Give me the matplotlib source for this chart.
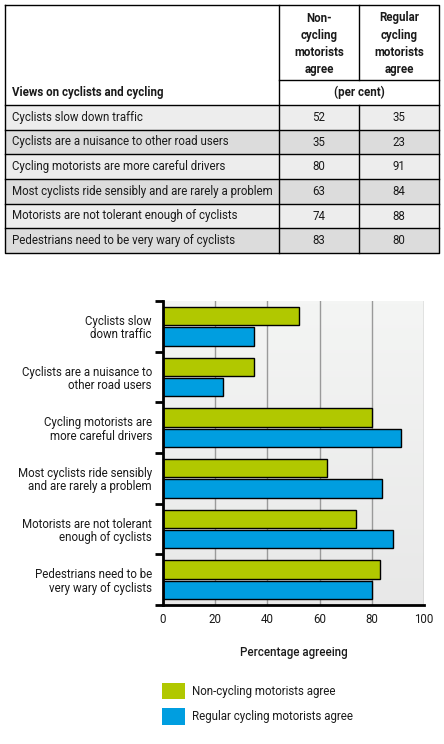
import numpy as np
import matplotlib
matplotlib.use("Agg")
import matplotlib.pyplot as plt
from matplotlib.patches import Rectangle

plt.rcParams["font.family"] = ["Roboto", "DejaVu Sans"]
FS = 8.3
plt.rcParams["font.size"] = FS

# data
views = ['Cyclists slow down traffic',
         'Cyclists are a nuisance to other road users',
         'Cycling motorists are more careful drivers',
         'Most cyclists ride sensibly and are rarely a problem',
         'Motorists are not tolerant enough of cyclists',
         'Pedestrians need to be very wary of cyclists']
chart_labels = ['Cyclists slow\ndown traffic',
                'Cyclists are a nuisance to\nother road users',
                'Cycling motorists are\nmore careful drivers',
                'Most cyclists ride sensibly\nand are rarely a problem',
                'Motorists are not tolerant\nenough of cyclists',
                'Pedestrians need to be\nvery wary of cyclists']
non_cycling = [52, 35, 80, 63, 74, 83]
regular_cycling = [35, 23, 91, 84, 88, 80]
col_headers = ['Non-\ncycling\nmotorists\nagree', 'Regular\ncycling\nmotorists\nagree']
series_names = ['Non-cycling motorists agree', 'Regular cycling motorists agree']

GREEN = '#b1c800'
BLUE = '#009ee0'
TXT = '#1a1a1a'

W, H = 444, 744
fig = plt.figure(figsize=(W / 100, H / 100), dpi=100)

# ---- table, drawn in pixel coordinates ----
tab = fig.add_axes([0, 0, 1, 1])
tab.set_xlim(0, W)
tab.set_ylim(H, 0)
tab.axis('off')

x0, x1, x2, x3 = 5, 279, 359, 439
y_top, y_hdr, y_pc = 5, 80, 105
row_h = (253 - y_pc) / len(views)
lw = 1.0

for i, (lab, a, b) in enumerate(zip(views, non_cycling, regular_cycling)):
    ry = y_pc + i * row_h
    fc = '#ededed' if i % 2 == 0 else '#dcdcdc'
    tab.add_patch(Rectangle((x0, ry), x3 - x0, row_h, facecolor=fc, edgecolor='none'))
    yc = ry + row_h / 2
    tab.text(12, yc, lab, va='center', ha='left', color=TXT)
    tab.text((x1 + x2) / 2, yc, str(a), va='center', ha='center', color=TXT)
    tab.text((x2 + x3) / 2, yc, str(b), va='center', ha='center', color=TXT)

y_bot = y_pc + len(views) * row_h
# grid lines
tab.plot([x0, x3, x3, x0, x0], [y_top, y_top, y_bot, y_bot, y_top], color='black', lw=lw)
tab.plot([x1, x1], [y_top, y_bot], color='black', lw=lw)
tab.plot([x2, x2], [y_top, y_hdr], color='black', lw=lw)
tab.plot([x2, x2], [y_pc, y_bot], color='black', lw=lw)
tab.plot([x1, x3], [y_hdr, y_hdr], color='black', lw=lw)
for i in range(len(views)):
    yy = y_pc + i * row_h
    tab.plot([x0, x3], [yy, yy], color='black', lw=lw)

tab.text(12, (y_hdr + y_pc) / 2, 'Views on cyclists and cycling', va='center', ha='left',
         fontweight='bold', color=TXT)
tab.text((x1 + x3) / 2, (y_hdr + y_pc) / 2, '(per cent)', va='center', ha='center',
         fontweight='bold', color=TXT)
tab.text((x1 + x2) / 2, (y_top + y_hdr) / 2 + 1, col_headers[0], va='center', ha='center',
         fontweight='bold', color=TXT, linespacing=1.4)
tab.text((x2 + x3) / 2, (y_top + y_hdr) / 2 + 1, col_headers[1], va='center', ha='center',
         fontweight='bold', color=TXT, linespacing=1.4)

# ---- bar chart ----
L, R, T, B = 163, 424, 301, 605
ax = fig.add_axes([L / W, 1 - B / H, (R - L) / W, (B - T) / H])
grad = np.linspace(0, 1, 100).reshape(-1, 1)
ax.imshow(grad, cmap=matplotlib.colors.LinearSegmentedColormap.from_list('bg', ['#f4f5f4', '#e8e8e8']),
          aspect='auto', extent=(0, 100, len(chart_labels) - 0.5, -0.5), zorder=0)

y = np.arange(len(chart_labels))
h = 0.36
b1 = ax.barh(y - 0.2, non_cycling, height=h, color=GREEN, edgecolor='black', linewidth=1,
             label=series_names[0], zorder=3)
b2 = ax.barh(y + 0.2, regular_cycling, height=h, color=BLUE, edgecolor='black', linewidth=1,
             label=series_names[1], zorder=3)

ax.set_xlim(0, 100)
ax.set_ylim(len(chart_labels) - 0.5, -0.5)
ax.set_xticks(np.arange(0, 101, 20))
ax.grid(axis='x', color='#9a9a9a', lw=1, zorder=1)

ax.set_yticks(np.arange(len(chart_labels) + 1) - 0.5)
ax.set_yticklabels([])
ax.set_yticks(y, minor=True)
ax.set_yticklabels(chart_labels, minor=True, color=TXT, linespacing=1.05)
ax.tick_params(axis='y', which='major', length=6, width=2, color='black', direction='out')
ax.tick_params(axis='y', which='minor', length=0, pad=8)
ax.tick_params(axis='x', length=0, pad=6, labelcolor=TXT)

for s in ['top', 'right']:
    ax.spines[s].set_visible(False)
ax.spines['left'].set_linewidth(2)
ax.spines['bottom'].set_linewidth(2)
for s in ['left', 'bottom']:
    ax.spines[s].set_zorder(5)

ax.set_xlabel('Percentage agreeing', color=TXT, labelpad=14, fontweight='medium')

fs_px = FS * 100 / 72
fig.legend(handles=[b1, b2], labels=series_names, loc='upper left',
           bbox_to_anchor=(162 / W, 1 - 683 / H), frameon=False, borderpad=0, borderaxespad=0,
           handlelength=23 / fs_px, handleheight=21 / fs_px, labelspacing=0.75,
           handletextpad=0.6, labelcolor=TXT)
for p in fig.legends[0].legend_handles:
    p.set_edgecolor('none')

fig.savefig('out.png', dpi=100)
